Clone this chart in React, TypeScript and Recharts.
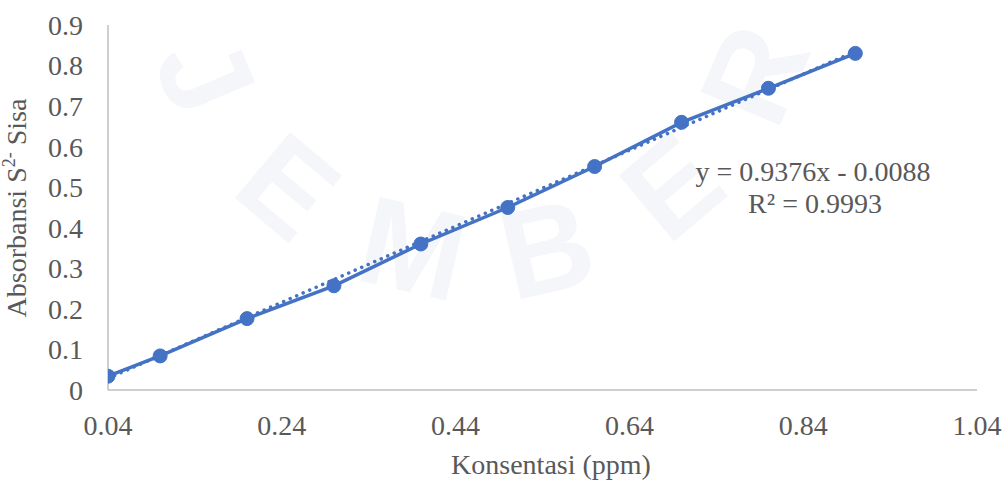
import React from 'react';
import { ComposedChart, Line, XAxis, YAxis, Customized } from 'recharts';

// Konsentrasi (ppm) of the standards
const konsentrasi = [0.04, 0.1, 0.2, 0.3, 0.4, 0.5, 0.6, 0.7, 0.8, 0.9];
// Absorbansi S2- sisa measured for each standard
const absorbansi = [0.034, 0.084, 0.176, 0.257, 0.36, 0.45, 0.551, 0.66, 0.744, 0.83];

const xTicks = [0.04, 0.24, 0.44, 0.64, 0.84, 1.04];
const yTicks = [0, 0.1, 0.2, 0.3, 0.4, 0.5, 0.6, 0.7, 0.8, 0.9];

// Linear trendline as reported on the chart
const slope = 0.9376;
const intercept = -0.0088;
const rSquared = 0.9993;

// Faint background stamp lettering
const stampLetters = ['J', 'E', 'M', 'B', 'E', 'R'];
const stampAngles = [-67, -40, -13, 13, 40, 67];

const data = konsentrasi.map((x, i) => ({ x, y: absorbansi[i] }));
const trendX = [konsentrasi[0], konsentrasi[konsentrasi.length - 1]];
const trend = trendX.map((x) => ({ x, t: slope * x + intercept }));

const BLUE = '#4472C4';
const TEXT = '#595959';
const FONT = "'Liberation Serif', 'Times New Roman', Times, serif";
const FS = 28;
const fontStyle = { fontFamily: FONT };

const Stamp = () => {
  const cx = 480;
  const cy = -42;
  const r = 298;
  return (
    <g fill="#f5f6f9" style={{ fontFamily: "'Liberation Sans', Arial, sans-serif" }} fontWeight="bold" fontSize={125}>
      {stampLetters.map((ch, i) => {
        const a = (stampAngles[i] * Math.PI) / 180;
        const px = cx + r * Math.sin(a);
        const py = cy + r * Math.cos(a);
        return (
          <text
            key={i}
            x={0}
            y={0}
            textAnchor="middle"
            dominantBaseline="central"
            transform={`translate(${px.toFixed(1)}, ${py.toFixed(1)}) rotate(${-stampAngles[i]})`}
          >
            {ch}
          </text>
        );
      })}
    </g>
  );
};

const YTitle = () => (
  <text
    transform="translate(26, 208) rotate(-90)"
    textAnchor="middle"
    fill={TEXT}
    style={fontStyle}
    fontSize={FS}
  >
    <tspan>Absorbansi S</tspan>
    <tspan fontSize={18} dy={-11}>2-</tspan>
    <tspan dy={11}> Sisa</tspan>
  </text>
);

const XTitle = () => (
  <text x={551} y={474} textAnchor="middle" fill={TEXT} style={fontStyle} fontSize={FS}>
    Konsentasi (ppm)
  </text>
);

const Equation = () => (
  <g fill={TEXT} style={fontStyle} fontSize={FS} textAnchor="middle">
    <text x={813} y={181}>{`y = ${slope}x - ${Math.abs(intercept).toFixed(4)}`}</text>
    <text x={815} y={213}>{`R² = ${rSquared}`}</text>
  </g>
);

export default function App() {
  return (
    <div style={{ position: 'absolute', left: 0, top: 0, width: 1008, height: 482, background: '#ffffff', fontFamily: FONT }}>
      <ComposedChart width={1008} height={482} margin={{ top: 25, right: 31, bottom: 0, left: 0 }} style={fontStyle}>
        <Customized component={Stamp} />
        <XAxis
          type="number"
          dataKey="x"
          domain={[0.04, 1.04]}
          ticks={xTicks}
          tickFormatter={(v: number) => v.toFixed(2)}
          allowDataOverflow
          height={92}
          axisLine={{ stroke: '#BFBFBF', strokeWidth: 1.5 }}
          tickLine={false}
          tickSize={0}
          tickMargin={25}
          tick={{ fill: TEXT, fontSize: FS, style: fontStyle }}
        />
        <YAxis
          type="number"
          domain={[0, 0.9]}
          ticks={yTicks}
          tickFormatter={(v: number) => (v === 0 ? '0' : v.toFixed(1))}
          width={108}
          axisLine={{ stroke: '#BFBFBF', strokeWidth: 1.5 }}
          tickLine={false}
          tickSize={0}
          tickMargin={25}
          tick={{ fill: TEXT, fontSize: FS, style: fontStyle }}
        />
        <Line
          data={data}
          dataKey="y"
          type="linear"
          stroke={BLUE}
          strokeWidth={3.5}
          dot={{ r: 7, fill: BLUE, stroke: BLUE, strokeWidth: 1 }}
          activeDot={false}
          isAnimationActive={false}
        />
        <Line
          data={trend}
          dataKey="t"
          type="linear"
          stroke={BLUE}
          strokeWidth={3.5}
          strokeDasharray="0.1 7"
          strokeLinecap="round"
          dot={false}
          activeDot={false}
          isAnimationActive={false}
        />
        <Customized component={YTitle} />
        <Customized component={XTitle} />
        <Customized component={Equation} />
      </ComposedChart>
    </div>
  );
}
